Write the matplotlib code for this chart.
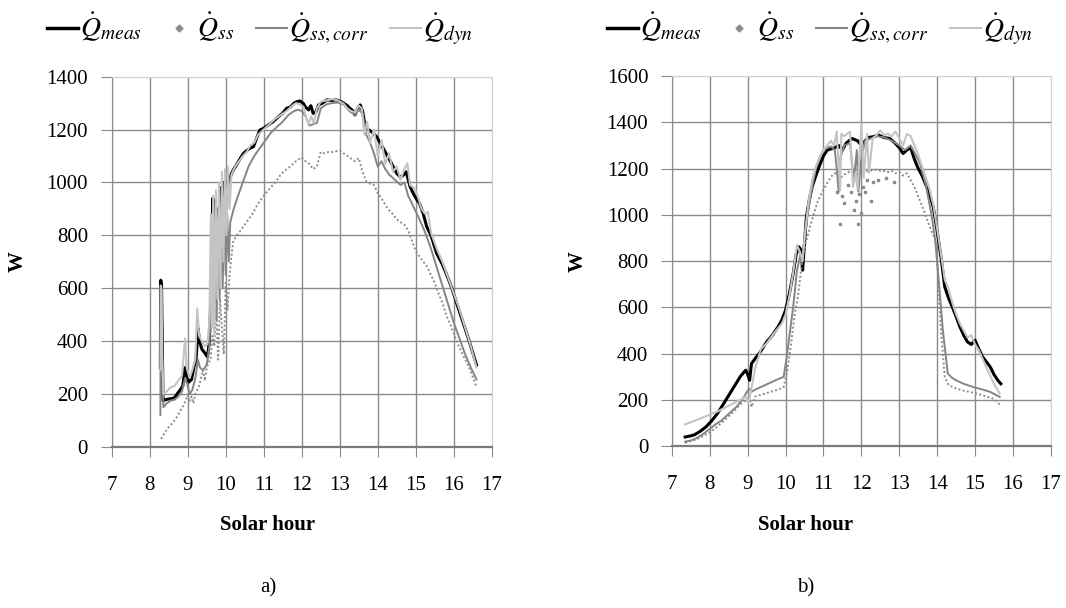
import matplotlib
matplotlib.use("Agg")
import matplotlib.pyplot as plt
from matplotlib.lines import Line2D

plt.rcParams['font.family'] = ['Liberation Serif', 'DejaVu Serif']
plt.rcParams['mathtext.fontset'] = 'stix'

# ---- panel a) ----
a_meas_x = [8.28, 8.29, 8.31, 8.33, 8.35, 8.45, 8.55, 8.65, 8.72, 8.8, 8.87, 8.93, 8.98, 9.03, 9.1,
            9.16, 9.22, 9.27, 9.31, 9.37, 9.45, 9.52, 9.57, 9.62, 9.66, 9.68, 9.71, 9.74, 9.78, 9.82,
            9.86, 9.9, 9.94, 9.98, 10.02, 10.08, 10.14, 10.2, 10.3, 10.4, 10.47, 10.55, 10.65, 10.73,
            10.82, 10.9, 11.0, 11.1, 11.25, 11.4, 11.5, 11.6, 11.7, 11.8, 11.87, 11.95, 12.04, 12.1,
            12.18, 12.24, 12.3, 12.37, 12.44, 12.55, 12.66, 12.8, 12.9, 13.0, 13.1, 13.2, 13.27, 13.35,
            13.4, 13.47, 13.54, 13.6, 13.67, 13.75, 13.85, 13.97, 14.1, 14.24, 14.35, 14.5, 14.6, 14.68,
            14.75, 14.85, 14.93, 14.98, 15.05, 15.1, 15.2, 15.29, 15.4, 15.55, 15.7, 15.8, 15.95, 16.08,
            16.2, 16.34, 16.45, 16.56, 16.6]
a_meas_y = [300, 630, 610, 400, 175, 180, 182, 185, 200, 215, 230, 300, 270, 245, 255,
            300, 330, 450, 400, 370, 355, 340, 400, 600, 940, 700, 930, 650, 900, 700,
            980, 760, 1000, 880, 1003, 990, 1030, 1047, 1070, 1095, 1110, 1120, 1130, 1135,
            1170, 1198, 1205, 1215, 1230, 1250, 1262, 1280, 1285, 1300, 1305, 1308, 1299, 1285,
            1274, 1290, 1261, 1265, 1293, 1300, 1312, 1310, 1312, 1308, 1300, 1290, 1280, 1270,
            1255, 1280, 1293, 1270, 1211, 1200, 1190, 1173, 1140, 1104, 1075, 1034, 1020, 1028,
            1040, 984, 960, 946, 930, 921, 880, 832, 800, 732, 690, 656, 600, 542,
            490, 429, 380, 328, 310]

a_ss_x = [8.3, 8.4, 8.5, 8.6, 8.7, 8.8, 8.9, 9.0, 9.05, 9.1, 9.15, 9.2, 9.3, 9.35, 9.4, 9.45, 9.5,
          9.55, 9.6, 9.65, 9.7, 9.75, 9.8, 9.85, 9.9, 9.95, 10.0, 10.05, 10.1, 10.15, 10.2, 10.3,
          10.4, 10.5, 10.6, 10.7, 10.85, 11.0, 11.15, 11.3, 11.45, 11.6, 11.7, 11.8, 11.9, 12.0,
          12.1, 12.2, 12.3, 12.4, 12.5, 12.6, 12.7, 12.8, 12.9, 13.0, 13.1, 13.2, 13.3, 13.4, 13.5,
          13.6, 13.7, 13.8, 13.9, 14.0, 14.1, 14.2, 14.3, 14.4, 14.5, 14.6, 14.7, 14.8, 14.9, 15.0,
          15.1, 15.2, 15.3, 15.4, 15.5, 15.6, 15.7, 15.8, 15.9, 16.0, 16.1, 16.2, 16.3, 16.4, 16.5,
          16.6]
a_ss_y = [30, 55, 75, 90, 110, 135, 160, 195, 175, 190, 165, 200, 230, 260, 290, 250, 300,
          320, 330, 420, 380, 520, 330, 560, 450, 350, 620, 520, 650, 720, 780, 800,
          820, 840, 860, 880, 920, 950, 975, 1000, 1030, 1050, 1060, 1075, 1085, 1095,
          1080, 1070, 1050, 1060, 1115, 1110, 1115, 1115, 1118, 1120, 1110, 1100, 1090, 1080, 1092,
          1040, 1003, 995, 990, 960, 940, 915, 895, 880, 860, 850, 840, 820, 780, 740,
          720, 700, 681, 650, 620, 580, 545, 500, 465, 430, 391, 360, 330, 303, 265,
          225]

a_corr_x = [8.28, 8.29, 8.31, 8.33, 8.36, 8.45, 8.55, 8.65, 8.75, 8.85, 8.93, 8.98, 9.05, 9.12, 9.2,
            9.27, 9.32, 9.4, 9.5, 9.57, 9.62, 9.66, 9.69, 9.72, 9.76, 9.8, 9.84, 9.88, 9.92, 9.96,
            10.0, 10.04, 10.08, 10.12, 10.2, 10.3, 10.4, 10.5, 10.6, 10.75, 10.9, 11.05, 11.2, 11.35,
            11.5, 11.65, 11.8, 11.9, 12.0, 12.1, 12.2, 12.3, 12.4, 12.5, 12.65, 12.8, 12.95, 13.1,
            13.25, 13.4, 13.5, 13.6, 13.7, 13.8, 13.9, 14.0, 14.1, 14.2, 14.3, 14.45, 14.6, 14.7,
            14.8, 14.9, 15.0, 15.1, 15.25, 15.4, 15.55, 15.7, 15.85, 16.0, 16.15, 16.3, 16.45, 16.6]
a_corr_y = [120, 600, 590, 300, 150, 165, 175, 178, 190, 210, 260, 240, 200, 215, 260,
            330, 300, 290, 310, 380, 560, 820, 500, 780, 480, 800, 560, 850, 600, 900,
            650, 880, 700, 850, 895, 940, 980, 1020, 1060, 1100, 1130, 1160, 1190, 1210,
            1230, 1255, 1270, 1275, 1270, 1250, 1215, 1220, 1225, 1280, 1295, 1300, 1302, 1295,
            1270, 1255, 1275, 1260, 1180, 1150, 1110, 1060, 1080, 1050, 1030, 1010, 990, 1000,
            950, 920, 890, 860, 810, 750, 680, 610, 540, 470, 410, 350, 300, 255]

a_dyn_x = [8.28, 8.29, 8.31, 8.33, 8.36, 8.45, 8.55, 8.65, 8.75, 8.85, 8.93, 8.97, 9.05, 9.12, 9.2,
           9.25, 9.3, 9.37, 9.45, 9.52, 9.57, 9.61, 9.64, 9.67, 9.7, 9.74, 9.78, 9.82, 9.86, 9.9,
           9.94, 9.98, 10.02, 10.06, 10.1, 10.15, 10.25, 10.35, 10.45, 10.55, 10.65, 10.75, 10.85,
           11.0, 11.15, 11.3, 11.45, 11.6, 11.75, 11.85, 11.95, 12.05, 12.12, 12.18, 12.25, 12.32,
           12.4, 12.5, 12.65, 12.8, 12.95, 13.1, 13.2, 13.3, 13.4, 13.5, 13.58, 13.65, 13.72, 13.8,
           13.9, 14.0, 14.1, 14.2, 14.3, 14.4, 14.5, 14.6, 14.7, 14.78, 14.85, 14.95, 15.05, 15.15,
           15.25, 15.32, 15.4, 15.55, 15.7, 15.85, 16.0, 16.15, 16.3, 16.45, 16.6]
a_dyn_y = [290, 610, 600, 350, 200, 210, 225, 230, 250, 270, 410, 300, 260, 290, 330,
           523, 420, 400, 380, 390, 480, 880, 450, 950, 420, 970, 560, 1000, 600, 1040,
           700, 1050, 800, 1060, 900, 1030, 1060, 1080, 1100, 1115, 1140, 1150, 1180,
           1200, 1220, 1240, 1255, 1270, 1290, 1300, 1295, 1285, 1240, 1220, 1250, 1225,
           1280, 1305, 1310, 1315, 1310, 1298, 1280, 1270, 1265, 1290, 1280, 1180, 1230, 1150,
           1200, 1100, 1160, 1070, 1110, 1040, 1060, 1010, 1050, 1072, 990, 980, 950, 900,
           880, 889, 810, 750, 700, 640, 580, 520, 450, 380, 300]

# ---- panel b) ----
b_meas_x = [7.35, 7.5, 7.6, 7.75, 7.9, 8.05, 8.2, 8.35, 8.5, 8.65, 8.8, 8.9, 8.95, 9.0, 9.05, 9.1,
            9.2, 9.3, 9.4, 9.5, 9.65, 9.8, 9.9, 10.0, 10.1, 10.2, 10.28, 10.35, 10.4, 10.45, 10.5,
            10.55, 10.62, 10.7, 10.8, 10.9, 11.0, 11.1, 11.2, 11.3, 11.4, 11.5, 11.6, 11.75, 11.9,
            12.0, 12.1, 12.2, 12.3, 12.45, 12.6, 12.75, 12.9, 13.0, 13.1, 13.2, 13.3, 13.4, 13.5,
            13.6, 13.7, 13.8, 13.9, 14.0, 14.1, 14.2, 14.3, 14.4, 14.5, 14.6, 14.7, 14.8, 14.9,
            15.0, 15.1, 15.2, 15.3, 15.4, 15.5, 15.6, 15.68]
b_meas_y = [40, 45, 50, 65, 84, 110, 141, 180, 220, 260, 300, 320, 329, 310, 285, 357,
            380, 400, 425, 451, 480, 516, 545, 588, 660, 746, 830, 862, 850, 761, 880,
            991, 1060, 1121, 1170, 1215, 1255, 1280, 1285, 1290, 1300, 1280, 1310, 1330, 1320,
            1300, 1320, 1335, 1337, 1345, 1334, 1330, 1308, 1290, 1265, 1280, 1290, 1240, 1200,
            1170, 1130, 1090, 1030, 930, 818, 689, 640, 602, 560, 516, 480, 451, 440,
            458, 420, 386, 365, 343, 310, 285, 270]

b_ss_x = [7.35, 7.5, 7.65, 7.8, 8.0, 8.2, 8.4, 8.6, 8.8, 8.95, 9.05, 9.1, 9.2, 9.4, 9.6, 9.8, 9.95,
          10.05, 10.15, 10.25, 10.3, 10.35, 10.45, 10.55, 10.7, 10.85, 11.0, 11.2, 11.3, 11.45,
          11.6, 11.75, 11.9, 12.05, 12.2, 12.4, 12.5, 12.6, 12.7, 12.8, 12.9, 13.0, 13.1, 13.2,
          13.4, 13.6, 13.8, 13.95, 14.0, 14.05, 14.1, 14.15, 14.2, 14.3, 14.5, 14.7, 15.0, 15.3,
          15.5, 15.65]
b_ss_y = [15, 22, 30, 42, 60, 85, 115, 145, 180, 200, 206, 170, 215, 225, 235, 245, 256,
          330, 450, 580, 620, 680, 820, 890, 980, 1060, 1110, 1165, 1180, 1160,
          1180, 1190, 1170, 1185, 1190, 1195, 1190, 1190, 1185, 1190, 1180, 1185, 1170, 1180,
          1120, 1040, 950, 890, 800, 650, 500, 400, 300, 265, 250, 240, 230, 215,
          205, 180]
# scattered steady-state points below the plateau
b_ss_pts_x = [11.35, 11.43, 11.5, 11.55, 11.65, 11.72, 11.8, 11.86, 11.9, 11.95, 12.0, 12.05,
              12.1, 12.15, 12.25, 12.3, 12.45, 12.65, 12.85]
b_ss_pts_y = [1100, 960, 1080, 1050, 1130, 1100, 1020, 1060, 960, 1090, 1010, 1120,
              1100, 1150, 1060, 1140, 1150, 1160, 1140]

b_corr_x = [7.35, 7.5, 7.65, 7.8, 8.0, 8.15, 8.3, 8.5, 8.7, 8.85, 9.0, 9.05, 9.1, 9.2, 9.4, 9.6,
            9.8, 9.95, 10.03, 10.12, 10.2, 10.3, 10.38, 10.42, 10.5, 10.6, 10.7, 10.8, 10.9, 11.0,
            11.1, 11.2, 11.3, 11.35, 11.4, 11.45, 11.55, 11.7, 11.8, 11.88, 11.92, 12.0, 12.1,
            12.25, 12.4, 12.6, 12.8, 13.0, 13.15, 13.3, 13.4, 13.55, 13.7, 13.85, 13.95, 14.05,
            14.15, 14.28, 14.4, 14.5, 14.7, 14.95, 15.2, 15.4, 15.65]
b_corr_y = [20, 25, 35, 50, 75, 95, 110, 140, 170, 200, 240, 249, 235, 245, 260, 275,
            290, 300, 386, 500, 602, 760, 818, 790, 900, 1020, 1120, 1200, 1250, 1280,
            1290, 1295, 1280, 1200, 1100, 1250, 1300, 1310, 1150, 1280, 1100, 1250, 1320,
            1330, 1340, 1335, 1320, 1300, 1280, 1300, 1270, 1220, 1130, 1000, 890, 700,
            501, 314, 295, 285, 270, 256, 245, 235, 213]

b_dyn_x = [7.35, 7.6, 7.9, 8.2, 8.5, 8.8, 8.95, 9.02, 9.1, 9.2, 9.35, 9.5, 9.7, 9.9, 10.0, 10.1,
           10.2, 10.3, 10.38, 10.45, 10.5, 10.6, 10.7, 10.8, 10.9, 11.0, 11.1, 11.2, 11.28, 11.35,
           11.44, 11.47, 11.55, 11.7, 11.78, 11.85, 11.9, 12.0, 12.06, 12.15, 12.2, 12.3,
           12.4, 12.5, 12.6, 12.7, 12.8, 12.9, 13.0, 13.1, 13.2, 13.3, 13.4, 13.5, 13.6, 13.7,
           13.8, 13.9, 14.0, 14.1, 14.2, 14.3, 14.4, 14.5, 14.6, 14.7, 14.8, 14.9, 15.0, 15.1,
           15.3, 15.5, 15.65]
b_dyn_y = [95, 110, 130, 150, 175, 200, 215, 184, 250, 340, 420, 445, 490, 530, 570, 650,
           750, 869, 840, 800, 900, 1050, 1150, 1210, 1250, 1280, 1300, 1320, 1300, 1359,
           1106, 1350, 1340, 1360, 1121, 1180, 1110, 1395, 1160, 1350, 1180, 1330,
           1345, 1365, 1345, 1350, 1340, 1360, 1330, 1300, 1350, 1340, 1300, 1260, 1210, 1160,
           1110, 1040, 940, 830, 720, 680, 620, 570, 530, 500, 470, 480, 440, 415,
           340, 270, 228]

x_ticks = list(range(7, 18))
a_y_ticks = list(range(0, 1401, 200))
b_y_ticks = list(range(0, 1601, 200))

labels = [r'$\dot{Q}_{meas}$', r'$\dot{Q}_{ss}$', r'$\dot{Q}_{ss,corr}$', r'$\dot{Q}_{dyn}$']

c_meas = 'black'
c_ss = '#8c8c8c'
c_corr = '#858585'
c_dyn = '#c4c4c4'
grid_c = '#8a8a8a'
border_c = '#d2d2d2'


def draw_panel(ax, meas, ss, corr, dyn, yticks):
    ax.plot(meas[0], meas[1], color=c_meas, lw=2.2)
    ax.plot(ss[0], ss[1], color=c_ss, lw=1.4, ls=(0, (1, 1.2)))
    ax.plot(corr[0], corr[1], color=c_corr, lw=1.4)
    ax.plot(dyn[0], dyn[1], color=c_dyn, lw=1.5)

    ax.set_xlim(7, 17)
    ax.set_ylim(yticks[0], yticks[-1])
    ax.set_xticks(x_ticks)
    ax.set_yticks(yticks)
    ax.grid(True, color=grid_c, lw=1.0)
    ax.set_axisbelow(True)
    # top and right borders are lighter in the original
    ax.get_ygridlines()[-1].set_color(border_c)
    ax.get_xgridlines()[-1].set_color(border_c)
    ax.spines['top'].set_color(border_c)
    ax.spines['right'].set_color(border_c)
    ax.spines['left'].set_color(grid_c)
    ax.spines['bottom'].set_color('#7a7a7a')
    ax.spines['bottom'].set_linewidth(1.6)
    ax.tick_params(axis='x', direction='out', length=7, color=grid_c, pad=14, labelsize=15)
    ax.tick_params(axis='y', direction='out', length=8, color=grid_c, pad=9, labelsize=15)


fig = plt.figure(figsize=(10.66, 6.08), dpi=100)
ax1 = fig.add_axes([0.1048, 0.265, 0.3565, 0.609])
ax2 = fig.add_axes([0.6303, 0.266, 0.3555, 0.609])

draw_panel(ax1, (a_meas_x, a_meas_y), (a_ss_x, a_ss_y), (a_corr_x, a_corr_y),
           (a_dyn_x, a_dyn_y), a_y_ticks)
draw_panel(ax2, (b_meas_x, b_meas_y), (b_ss_x, b_ss_y), (b_corr_x, b_corr_y),
           (b_dyn_x, b_dyn_y), b_y_ticks)
ax2.plot(b_ss_pts_x, b_ss_pts_y, ls='none', marker='s', ms=1.6, color=c_ss, zorder=1.9)

handles = [Line2D([], [], color=c_meas, lw=2.5),
           Line2D([], [], ls='none', marker='D', ms=3.5, color=c_ss),
           Line2D([], [], color=c_corr, lw=1.5),
           Line2D([], [], color=c_dyn, lw=1.5)]

for x0, label, xc in [(47, 'a)', 268), (607, 'b)', 806)]:
    fig.legend(handles, labels, loc='center left', bbox_to_anchor=(x0 / 1066, 1 - 29 / 608),
               ncol=4, frameon=False, fontsize=20, handlelength=1.1, handletextpad=0.08,
               columnspacing=0.8, borderaxespad=0, borderpad=0)
    fig.text(xc / 1066, 1 - 525 / 608, 'Solar hour', ha='center', va='center',
             fontsize=15, fontweight='bold')
    fig.text(xc / 1066, 1 - 588 / 608, label, ha='center', va='center', fontsize=15)

fig.text(18 / 1066, 1 - 262 / 608, 'W', rotation=90, ha='center', va='center',
         fontsize=15, fontweight='bold')
fig.text(578 / 1066, 1 - 262 / 608, 'W', rotation=90, ha='center', va='center',
         fontsize=15, fontweight='bold')

fig.savefig('out.png', dpi=100)
